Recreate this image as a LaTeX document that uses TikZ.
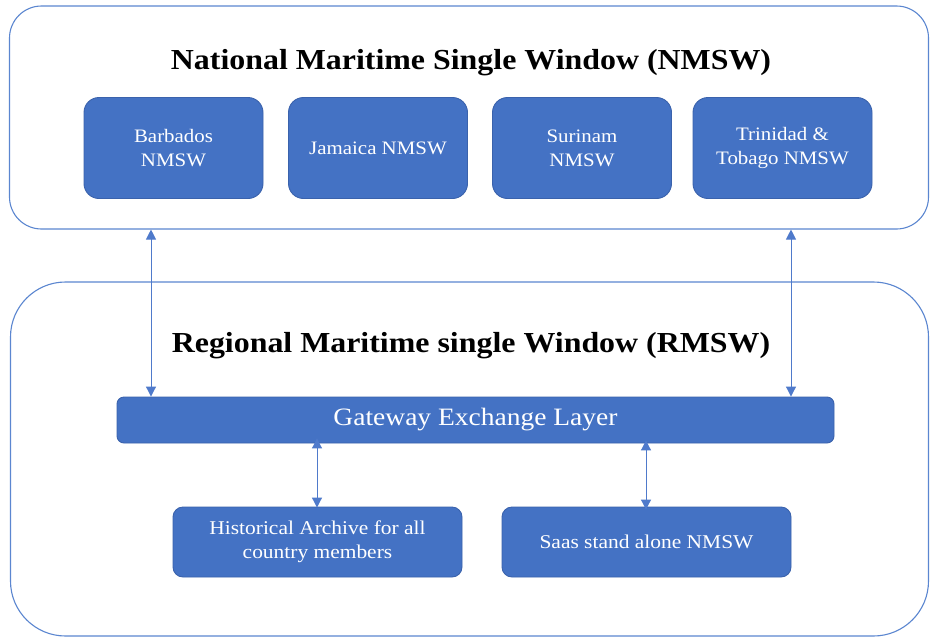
\documentclass[tikz,border=0pt]{standalone}
\usepackage{fontspec}
\setmainfont[FakeStretch=1.1]{Liberation Serif}
\usetikzlibrary{arrows.meta}
\definecolor{boxfill}{HTML}{4472C4}
\definecolor{boxedge}{HTML}{3A62AC}
\definecolor{outeredge}{HTML}{5B86D0}
\definecolor{arrcol}{HTML}{4F7ACB}
\begin{document}
\begin{tikzpicture}[x=1pt,y=-1pt,
  outerbox/.style={draw=outeredge, line width=1.1pt, fill=white},
  bluebox/.style={draw=boxedge, line width=0.9pt, fill=boxfill, text=white, align=center, inner sep=0pt},
  ctry/.style={bluebox, rounded corners=15pt, minimum width=179pt, minimum height=101pt, font=\fontsize{19}{24}\selectfont},
  lowbox/.style={bluebox, rounded corners=10pt, minimum width=289pt, minimum height=70pt, font=\fontsize{19.5}{24}\selectfont},
  title/.style={font=\bfseries\fontsize{29}{34}\selectfont, inner sep=0pt, anchor=base},
  arr/.style={draw=arrcol, line width=1pt, {Triangle[length=10pt,width=10pt]}-{Triangle[length=10pt,width=10pt]}}
]
\useasboundingbox (0,0) rectangle (930,638);
% outer containers
\node[outerbox, rounded corners=32pt, minimum width=919pt, minimum height=223pt, inner sep=0pt] (nmsw) at (469,117.5) {};
\node[outerbox, rounded corners=55pt, minimum width=918pt, minimum height=354pt, inner sep=0pt] (rmsw) at (469.5,459) {};
% titles
\node[title] (t1) at (471,69) {National Maritime Single Window (NMSW)};
\node[title] (t2) at (471,352) {Regional Maritime single Window (RMSW)};
% country boxes
\node[ctry] (barb) at (173.5,148) {Barbados\\NMSW};
\node[ctry] (jam) at (378,148) {Jamaica NMSW};
\node[ctry] (sur) at (582,148) {Surinam\\NMSW};
\node[ctry] (tt) at (782.5,148) {Trinidad \&\\Tobago NMSW};
% gateway
\node[bluebox, rounded corners=7pt, minimum width=717pt, minimum height=46pt, font=\fontsize{25}{28}\selectfont] (gw) at (475.5,420) {Gateway Exchange Layer};
% lower boxes
\node[lowbox] (hist) at (317.5,542) {Historical Archive for all\\country members};
\node[lowbox] (saas) at (646.5,542) {Saas stand alone NMSW};
% arrow columns
\coordinate (c1) at (151,0);
\coordinate (c2) at (791,0);
\coordinate (c3) at (317,0);
\coordinate (c4) at (646,0);
\draw[arr] (nmsw.south -| c1) -- (gw.north -| c1);
\draw[arr] (nmsw.south -| c2) -- (gw.north -| c2);
\draw[arr] ([yshift=5pt]gw.south -| c3) -- ([yshift=-1pt]hist.north -| c3);
\draw[arr] ([yshift=3pt]gw.south -| c4) -- ([yshift=-3pt]saas.north -| c4);
\end{tikzpicture}
\end{document}
